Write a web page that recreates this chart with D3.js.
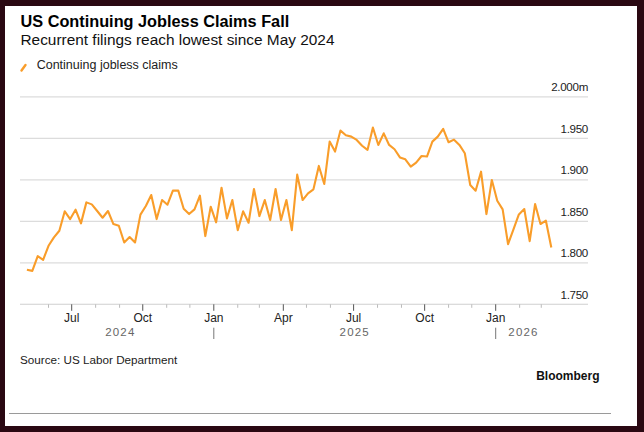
<!DOCTYPE html>
<html><head><meta charset="utf-8">
<script src="https://cdn.jsdelivr.net/npm/d3@7"></script>
<style>
body{margin:0;background:#2a0812;}
svg{display:block;font-family:"Liberation Sans",Arial,Helvetica,sans-serif;}
</style></head>
<body>
<svg id="c" width="644" height="432"></svg>
<script>
// Weekly continuing jobless claims (millions), first week ending 2024-05-04
const startDate = "2024-05-04";
const claims = [
1.7916,1.7903,1.808,1.8036,1.8205,1.8306,1.8386,1.862,1.8527,1.864,
1.8475,1.8728,1.8704,1.8624,1.8543,1.8624,1.8467,1.8447,1.8245,1.831,
1.8245,1.858,1.8684,1.8817,1.8527,1.8756,1.870,1.8869,1.8869,1.8652,
1.8587,1.8644,1.8809,1.8322,1.8676,1.8487,1.8905,1.8535,1.8756,1.8394,
1.862,1.8483,1.8889,1.8563,1.8756,1.8515,1.8889,1.8515,1.8756,1.8394,
1.9062,1.8756,1.8837,1.8885,1.9167,1.8949,1.946,1.934,1.9593,1.9537,
1.952,1.948,1.941,1.936,1.963,1.942,1.956,1.942,1.9368,1.927,
1.9247,1.9158,1.9207,1.9287,1.928,1.946,1.952,1.9613,1.9452,1.9484,
1.942,1.932,1.8937,1.8869,1.9098,1.8587,1.8998,1.8748,1.8644,1.8225,
1.8402,1.8583,1.8648,1.8261,1.8708,1.8467,1.8507,1.8185
];
const yTicks = [1.75,1.80,1.85,1.90,1.95,2.00];
const yTickLabels = ["1.750","1.800","1.850","1.900","1.950","2.000m"];
const quarterLabels = ["Jul","Oct","Jan","Apr","Jul","Oct","Jan"];
const yearLabels = ["2024","2025","2026"];

const svg = d3.select("#c");
svg.append("rect").attr("x",5).attr("y",6).attr("width",632).attr("height",420).attr("fill","#fff");

const parse = d3.utcParse("%Y-%m-%d");
const t0 = parse(startDate);
const data = claims.map((v,i)=>({date:d3.utcDay.offset(t0,i*7), value:v}));

const x = d3.scaleUtc().domain([parse("2024-07-01"),parse("2026-01-01")]).range([71.7,495.7]);
const y = d3.scaleLinear().domain([1.75,2.0]).range([304.3,96.8]);

const gridL = 20, gridR = 588;

// gridlines
svg.append("g").selectAll("line").data(yTicks.slice(1)).join("line")
  .attr("x1",gridL).attr("x2",gridR).attr("y1",d=>y(d)).attr("y2",d=>y(d))
  .attr("stroke","#dcdcdc").attr("stroke-width",1.3);
// axis baseline
svg.append("line").attr("x1",gridL).attr("x2",gridR).attr("y1",y(1.75)).attr("y2",y(1.75))
  .attr("stroke","#cfcfcf").attr("stroke-width",1.1);

// y labels
svg.append("g").selectAll("text").data(yTicks).join("text")
  .attr("x",gridR).attr("y",d=>y(d)-5.5).attr("text-anchor","end")
  .attr("font-size",11.6).attr("letter-spacing",-0.3).attr("fill","#222").text((d,i)=>yTickLabels[i]);

// x ticks
const dMin = data[0].date, dMax = data[data.length-1].date;
const months = d3.utcMonth.range(d3.utcMonth.ceil(dMin), dMax);
const quarters = months.filter(m=>m.getUTCMonth()%3===0);
const axY = y(1.75);
svg.append("g").selectAll("line").data(months).join("line")
  .attr("x1",d=>x(d)).attr("x2",d=>x(d))
  .attr("y1",axY).attr("y2",d=>axY+(d.getUTCMonth()%3===0?6.5:3.5))
  .attr("stroke",d=>d.getUTCMonth()%3===0?"#555":"#bbb").attr("stroke-width",1);
svg.append("g").selectAll("text").data(quarters).join("text")
  .attr("x",d=>x(d)).attr("y",322).attr("text-anchor","middle")
  .attr("font-size",12).attr("fill","#222").text((d,i)=>quarterLabels[i]);

// year labels
const yearBounds = [dMin, parse("2025-01-01"), parse("2026-01-01"), dMax];
svg.append("g").selectAll("text").data(yearLabels).join("text")
  .attr("x",(d,i)=>(x(yearBounds[i])+x(yearBounds[i+1]))/2).attr("y",336)
  .attr("text-anchor","middle").attr("font-size",11.5).attr("letter-spacing",1.2)
  .attr("fill","#666").text(d=>d);
svg.append("g").selectAll("line").data(yearBounds.slice(1,3)).join("line")
  .attr("x1",d=>x(d)).attr("x2",d=>x(d)).attr("y1",327.7).attr("y2",339)
  .attr("stroke","#777").attr("stroke-width",1);

// line
svg.append("path").datum(data)
  .attr("d",d3.line().x(d=>x(d.date)).y(d=>y(d.value)))
  .attr("fill","none").attr("stroke","#f99d2a").attr("stroke-width",2.1)
  .attr("stroke-linejoin","round");

// titles
svg.append("text").attr("x",20.5).attr("y",26.5).attr("font-size",16.3).attr("font-weight","bold")
  .attr("fill","#000").text("US Continuing Jobless Claims Fall");
svg.append("text").attr("x",20.5).attr("y",45).attr("font-size",15.4).attr("fill","#111")
  .text("Recurrent filings reach lowest since May 2024");
// legend
svg.append("line").attr("x1",21.5).attr("y1",70.5).attr("x2",25.5).attr("y2",65)
  .attr("stroke","#f99d2a").attr("stroke-width",2.4).attr("stroke-linecap","round");
svg.append("text").attr("x",36.7).attr("y",69).attr("font-size",12.5).attr("fill","#222")
  .text("Continuing jobless claims");

// source
svg.append("text").attr("x",20).attr("y",364).attr("font-size",11.7).attr("fill","#222")
  .text("Source: US Labor Department");
svg.append("text").attr("x",599.5).attr("y",380).attr("text-anchor","end")
  .attr("font-size",12).attr("font-weight","bold").attr("fill","#111").text("Bloomberg");
svg.append("line").attr("x1",9).attr("x2",611).attr("y1",413.5).attr("y2",413.5)
  .attr("stroke","#9a9a9a").attr("stroke-width",1.2);
</script>
</body></html>
